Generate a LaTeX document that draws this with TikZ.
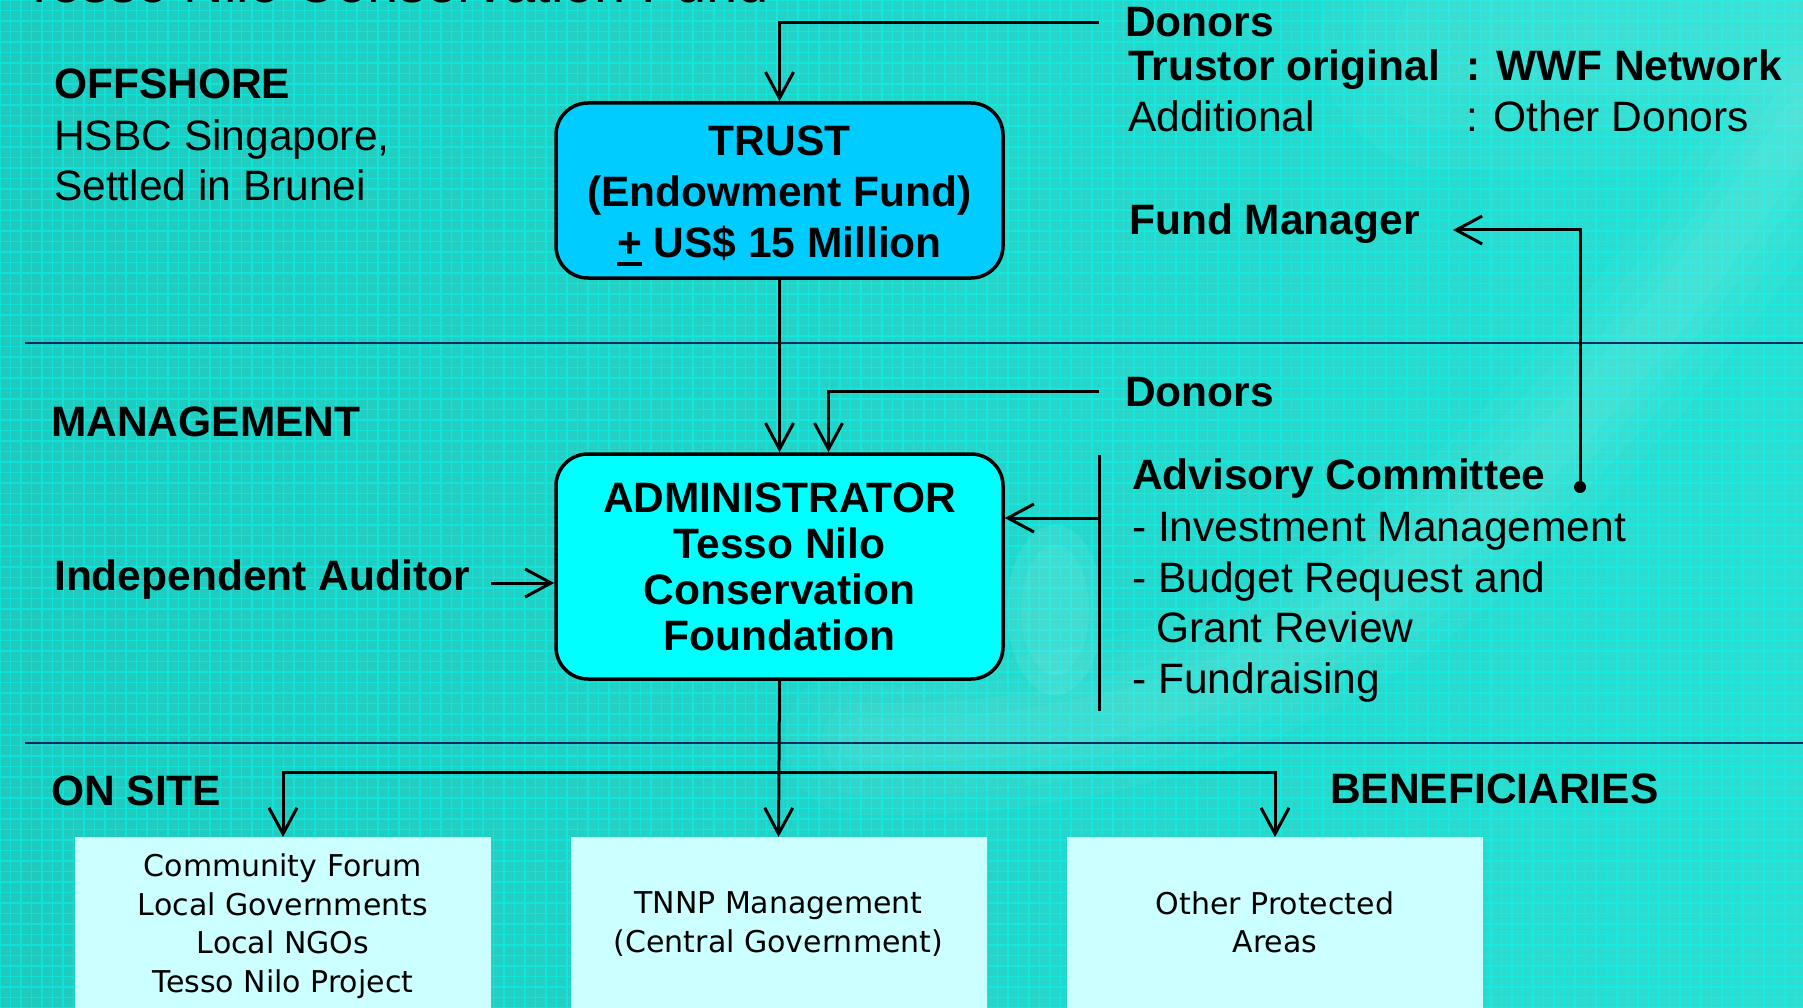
\documentclass[tikz,border=0pt]{standalone}
\usepackage{fontspec}
\setmainfont{Liberation Sans}
\newfontfamily\boxfont{DejaVu Sans}
\usetikzlibrary{arrows.meta}
\definecolor{bgA}{RGB}{30,202,190}
\definecolor{bgB}{RGB}{44,222,210}
\definecolor{gridc}{RGB}{0,255,245}
\definecolor{sepc}{RGB}{16,44,96}
\definecolor{trustc}{RGB}{0,204,255}
\definecolor{adminc}{RGB}{0,255,255}
\definecolor{benc}{RGB}{204,255,255}
\tikzset{
  lbl/.style={inner sep=0pt, anchor=base west, font=\fontsize{42.5}{50}\selectfont\bfseries},
  txt/.style={inner sep=0pt, anchor=base west, font=\fontsize{42.5}{50}\selectfont},
  mainbox/.style={draw=black, line width=3.5pt, rounded corners=32pt, minimum width=447pt, align=center, inner sep=0pt},
  benbox/.style={fill=benc, draw=none, minimum width=416pt, minimum height=200pt, anchor=north, inner sep=0pt},
  bentext/.style={inner sep=0pt, anchor=north, align=center, font=\boxfont\fontsize{30}{38.5}\selectfont},
  conn/.style={line width=3pt, draw=black},
  arr/.style={conn, -{Straight Barb[length=26pt,width=28pt]}},
  sepline/.style={line width=2.5pt, draw=sepc},
}
\begin{document}
\begin{tikzpicture}[x=1pt,y=-1pt]
\useasboundingbox (0,0) rectangle (1803,1008);
\clip (0,0) rectangle (1803,1008);
% background
\shade[left color=bgA, right color=bgB] (0,0) rectangle (1803,1008);
\begin{scope}[y=1pt]
\draw[gridc, opacity=0.45, line width=1.1pt, step=10.5pt] (0,-1008) grid (1803,0);
\end{scope}
% soft light swoosh
\begin{scope}[line cap=round]
\foreach \w/\o in {150/0.03,110/0.03,75/0.035,45/0.04}{
  \draw[white, opacity=\o, line width=\w pt] (860,740) .. controls (1250,750) and (1520,560) .. (1803,120);
}
\foreach \w/\o in {260/0.03,180/0.03,110/0.035}{
  \draw[white, opacity=\o, line width=\w pt] (1450,40) -- (1803,40);
}
\fill[white, opacity=0.08] (1055,610) ellipse (48pt and 85pt);
\fill[white, opacity=0.06] (1055,610) ellipse (34pt and 65pt);
\end{scope}
% title (cut off at top)
\node[inner sep=0pt, anchor=base west, font=\fontsize{56}{60}\selectfont] (title) at (22,2.5) {Tesso Nilo Conservation Fund};
% separators
\coordinate (sepA) at (25,343);
\coordinate (sepB) at (25,743);
\draw[sepline] (sepA) -- (sepA -| 1803,0);
\draw[sepline] (sepB) -- (sepB -| 1803,0);
% main boxes
\node[mainbox, fill=trustc, minimum height=175pt, font=\fontsize{42.5}{51}\selectfont\bfseries] (trust) at (779.5,190.5)
  {\rule{0pt}{36pt}TRUST\\(Endowment Fund)\\\setbox0\hbox{+}\rlap{\smash{\rule[-8pt]{\wd0}{4pt}}}+ US\$ 15 Million};
\node[mainbox, fill=adminc, minimum height=225pt, font=\fontsize{42.5}{46}\selectfont\bfseries] (admin) at (779.5,566.5)
  {ADMINISTRATOR\\Tesso Nilo\\Conservation\\Foundation};
% beneficiary boxes
\node[benbox] (b1) at (283,837) {};
\node[benbox] (b2) at (778.5,837) {};
\node[benbox] (b3) at (1275,837) {};
\node[bentext] (b1t) at (283,853.5) {Community Forum\\Local Governments\\Local NGOs\\Tesso Nilo Project};
\node[bentext] (b2t) at (778.5,891.5) {TNNP Management\\(Central Government)};
\node[bentext] (b3t) at (1275,891) {Other Protected\\Areas};
% left labels
\node[lbl] (offshore) at (54,99) {OFFSHORE};
\node[txt] (hsbc) at (54,151) {HSBC Singapore,};
\node[txt] (settled) at (54,201) {Settled in Brunei};
\node[lbl] (mgmt) at (51,436) {MANAGEMENT};
\node[lbl] (auditor) at (54,590) {Independent Auditor};
\node[lbl] (onsite) at (51,805) {ON SITE};
\node[lbl] (benef) at (1330,803) {BENEFICIARIES};
% right labels
\node[lbl] (donorsA) at (1125,37) {Donors};
\node[lbl] (trustor) at (1128,81) {Trustor original};
\node[lbl] (wwf) at (1466,81) {: WWF Network};
\node[txt] (addl) at (1128,132) {Additional};
\node[txt] (other) at (1466,132) {: Other Donors};
\node[lbl] (fundmgr) at (1129,235) {Fund Manager};
\node[lbl] (donorsB) at (1125,406) {Donors};
\node[lbl] (advisory) at (1132,489) {Advisory Committee};
\node[txt] (adv1) at (1132,541) {- Investment Management};
\node[txt] (adv2) at (1132,592) {- Budget Request and};
\node[txt] (adv3) at (1156,642) {Grant Review};
\node[txt] (adv4) at (1132,693) {- Fundraising};
% connectors
\draw[arr] ([xshift=-26pt]donorsA.west) -| (trust.north);
\draw[arr] (trust.south) -- (admin.north);
\draw[arr] ([xshift=-26pt]donorsB.west) -| ([xshift=49pt]admin.north);
\coordinate (advT) at (1099,455);
\coordinate (advB) at (1099,711);
\coordinate (advM) at (1099,518);
\draw[conn] (advT) -- (advB);
\draw[arr] (advM) -- (advM -| admin.east);
\coordinate (fmdot) at (1580,487);
\coordinate (fmtip) at (1453,230);
\draw[arr] (fmdot) |- (fmtip);
\fill (fmdot) circle (6pt);
\coordinate (audfrom) at (491,583);
\draw[arr] (audfrom) -- (audfrom -| admin.west);
\draw[arr] (admin.south) -- (b2.north);
\coordinate (bar) at (779.5,772);
\draw[conn, {Straight Barb[length=26pt,width=28pt]}-{Straight Barb[length=26pt,width=28pt]}] (b1.north) |- (bar) -| (b3.north);
\end{tikzpicture}
\end{document}
